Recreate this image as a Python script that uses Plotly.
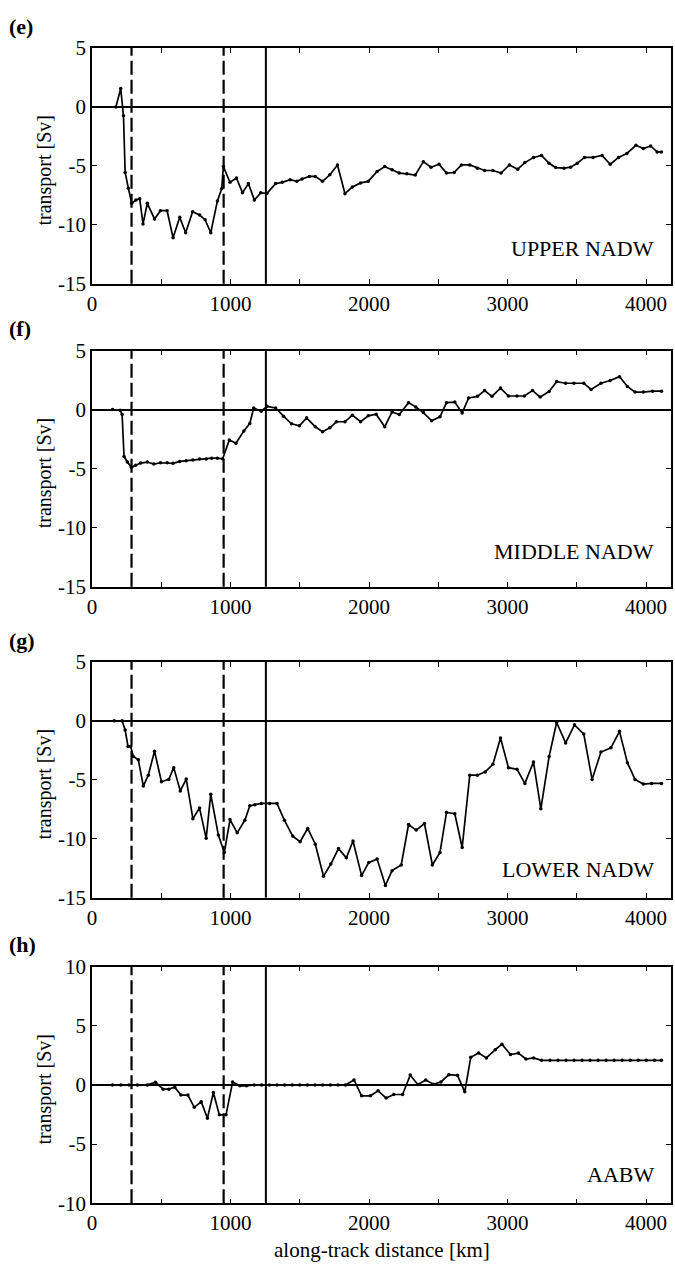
import plotly.graph_objects as go

# ---------------- data: along-track distance [km] and transport [Sv] ----------------
km_upper = [172, 207, 227, 239, 262, 286, 317, 344, 368, 399, 451, 494, 542, 585, 633, 676,
            726, 776, 816, 857, 905, 936, 948, 996, 1043, 1086, 1129, 1172, 1218, 1263, 1325,
            1373, 1430, 1478, 1516, 1569, 1612, 1664, 1717, 1772, 1826, 1879, 1939, 1994, 2058,
            2113, 2166, 2218, 2273, 2333, 2392, 2447, 2505, 2559, 2614, 2667, 2727, 2782, 2834,
            2894, 2953, 3013, 3073, 3125, 3187, 3245, 3300, 3347, 3407, 3455, 3503, 3555, 3617,
            3682, 3741, 3801, 3861, 3927, 3980, 4033, 4080, 4111]
sv_upper = [0, 1.56, -0.75, -5.56, -6.89, -8.17, -7.89, -7.78, -9.92, -8.17, -9.5, -8.8, -8.8,
            -11.1, -9.36, -10.67, -8.89, -9.17, -9.56, -10.67, -7.97, -6.94, -5.06, -6.39, -6.03,
            -7.28, -6.5, -7.89, -7.28, -7.33, -6.5, -6.39, -6.17, -6.31, -6.11, -5.89, -5.89,
            -6.31, -5.75, -4.92, -7.36, -6.78, -6.44, -6.31, -5.47, -5.06, -5.33, -5.61, -5.67,
            -5.78, -4.64, -5.11, -4.86, -5.61, -5.56, -4.92, -4.92, -5.19, -5.39, -5.39, -5.61,
            -4.92, -5.28, -4.72, -4.28, -4.11, -4.78, -5.14, -5.19, -5.11, -4.78, -4.28, -4.28,
            -4.11, -4.86, -4.28, -3.94, -3.25, -3.53, -3.31, -3.81, -3.81]

km_middle = [148, 203, 217, 231, 255, 284, 315, 351, 399, 446, 494, 542, 585, 633, 680, 728,
             776, 824, 864, 905, 943, 991, 1039, 1096, 1139, 1167, 1222, 1263, 1325, 1382, 1440,
             1497, 1549, 1612, 1664, 1717, 1764, 1826, 1879, 1939, 1994, 2051, 2113, 2166, 2218,
             2285, 2337, 2392, 2452, 2512, 2559, 2619, 2672, 2719, 2782, 2834, 2887, 2949, 3006,
             3068, 3121, 3180, 3235, 3300, 3354, 3419, 3479, 3550, 3603, 3674, 3741, 3808, 3865,
             3920, 3980, 4047, 4111]
sv_middle = [0, -0.06, -0.42, -3.97, -4.44, -4.89, -4.72, -4.53, -4.44, -4.61, -4.5, -4.5,
             -4.55, -4.39, -4.33, -4.27, -4.19, -4.19, -4.11, -4.11, -4.16, -2.57, -2.85, -1.82,
             -1.17, 0.14, -0.14, 0.28, 0.14, -0.56, -1.2, -1.37, -0.7, -1.45, -1.87, -1.54,
             -1.03, -1.03, -0.47, -1.03, -0.53, -0.39, -1.45, -0.2, -0.42, 0.59, 0.22, -0.25,
             -0.95, -0.61, 0.59, 0.64, -0.28, 0.98, 1.12, 1.62, 1.12, 1.82, 1.15, 1.15, 1.15,
             1.62, 1.06, 1.54, 2.37, 2.23, 2.23, 2.23, 1.7, 2.23, 2.46, 2.79, 1.96, 1.48, 1.48,
             1.56, 1.56]

km_lower = [160, 217, 239, 260, 279, 298, 334, 370, 406, 451, 501, 554, 590, 637, 680, 728,
            776, 824, 857, 912, 955, 996, 1048, 1103, 1139, 1175, 1222, 1282, 1335, 1389, 1449,
            1502, 1557, 1612, 1671, 1724, 1779, 1836, 1884, 1946, 1998, 2058, 2118, 2166, 2232,
            2285, 2340, 2400, 2457, 2512, 2559, 2619, 2672, 2727, 2782, 2839, 2894, 2949, 3006,
            3068, 3125, 3187, 3240, 3300, 3354, 3419, 3483, 3550, 3610, 3674, 3746, 3808, 3865,
            3920, 3980, 4040, 4111]
sv_lower = [0, 0, -0.78, -2.18, -2.18, -3.02, -3.3, -5.53, -4.61, -2.57, -5.17, -4.97, -3.97,
            -5.95, -4.94, -8.3, -7.4, -9.97, -6.23, -9.69, -11.17, -8.38, -9.5, -8.44, -7.21,
            -7.12, -7.01, -7.01, -7.01, -8.44, -9.78, -10.25, -9.13, -10.47, -13.18, -12.15,
            -10.84, -11.62, -10.2, -13.13, -12.01, -11.73, -13.97, -12.71, -12.23, -8.8, -9.27,
            -8.72, -12.23, -11.17, -7.77, -7.88, -10.75, -4.61, -4.61, -4.33, -3.69, -1.45,
            -3.97, -4.11, -5.31, -3.49, -7.46, -3.02, -0.14, -1.87, -0.34, -1.12, -4.97, -2.65,
            -2.29, -0.89, -3.55, -4.97, -5.36, -5.31, -5.31]

km_aabw = [148, 208, 267, 327, 399, 458, 513, 554, 597, 642, 692, 738, 788, 833, 876, 919, 967,
           1015, 1067, 1115, 1170, 1225, 1280, 1335, 1390, 1445, 1500, 1555, 1610, 1665, 1720,
           1775, 1830, 1891, 1946, 2010, 2065, 2123, 2178, 2242, 2297, 2352, 2409, 2464, 2519,
           2576, 2638, 2691, 2734, 2791, 2847, 2911, 2959, 3021, 3078, 3133, 3188, 3245, 3306,
           3364, 3422, 3480, 3538, 3596, 3654, 3712, 3770, 3828, 3886, 3944, 4002, 4060, 4111]
sv_aabw = [0, 0, 0, 0, 0, 0.22, -0.36, -0.36, -0.19, -0.86, -0.86, -1.89, -1.42, -2.81, -0.64,
           -2.53, -2.53, 0.25, -0.08, -0.08, 0, 0, 0, 0, 0, 0, 0, 0, 0, 0, 0, 0, 0, 0.42, -0.92,
           -0.92, -0.5, -1.11, -0.81, -0.81, 0.83, 0.03, 0.42, 0.06, 0.25, 0.86, 0.81, -0.58,
           2.33, 2.69, 2.28, 2.97, 3.44, 2.56, 2.69, 2.19, 2.28, 2.08, 2.08, 2.08, 2.08, 2.08,
           2.08, 2.08, 2.08, 2.08, 2.08, 2.08, 2.08, 2.08, 2.08, 2.08, 2.08]

panel_letters = ["(e)", "(f)", "(g)", "(h)"]
panel_names = ["UPPER NADW", "MIDDLE NADW", "LOWER NADW", "AABW"]
y_ranges = [[-15, 5], [-15, 5], [-15, 5], [-10, 10]]
y_ticks = [[5, 0, -5, -10, -15], [5, 0, -5, -10, -15], [5, 0, -5, -10, -15], [10, 5, 0, -5, -10]]
y_ticklabels = [["5", "0", "-5", "-10", "-15"], ["5", "0", "-5", "-10", "-15"],
                ["5", "0", "-5", "-10", "-15"], ["10", "5", "0", "-5", "-10"]]
x_ticks = [0, 500, 1000, 1500, 2000, 2500, 3000, 3500, 4000]
x_ticklabels = ["0", "", "1000", "", "2000", "", "3000", "", "4000"]
dashed_km = [285, 950]      # dashed section boundaries
solid_km = 1255             # solid section boundary

series = [(km_upper, sv_upper), (km_middle, sv_middle), (km_lower, sv_lower), (km_aabw, sv_aabw)]

# ---------------- layout geometry (pixels) ----------------
W, H = 675, 1284
X_LEFT, X_RIGHT = 87.7, 671.0
panel_top = [36.7, 345.0, 662.3, 972.7]
panel_bottom = [277.0, 585.7, 902.5, 1214.0]
name_offset = [36, 36, 28.5, 29]

SERIF = "Liberation Serif, Times New Roman, serif"


def px_x(px):
    return px / W


def px_y(py):
    return 1 - py / H


fig = go.Figure()
layout = dict(
    width=W, height=H,
    margin=dict(l=0, r=0, t=0, b=0),
    paper_bgcolor="white", plot_bgcolor="white",
    showlegend=False,
    font=dict(family=SERIF, color="black", size=21),
)
annotations = []
shapes = []

for i, ((xs, ys), letter, name) in enumerate(zip(series, panel_letters, panel_names)):
    n = "" if i == 0 else str(i + 1)
    xa, ya = "x" + n, "y" + n
    fig.add_trace(go.Scatter(
        x=xs, y=ys, xaxis=xa, yaxis=ya, mode="lines+markers",
        line=dict(color="black", width=1.7),
        marker=dict(color="black", size=3.5),
        hoverinfo="skip",
    ))
    layout["xaxis" + n] = dict(
        domain=[px_x(X_LEFT), px_x(X_RIGHT)], anchor=ya, range=[0, 4180],
        tickmode="array", tickvals=x_ticks, ticktext=x_ticklabels,
        ticks="inside", ticklen=5, tickwidth=1.3, tickcolor="black",
        showline=True, linecolor="black", linewidth=1.6, mirror="allticks",
        showgrid=False, zeroline=False,
        tickfont=dict(family=SERIF, size=21, color="black"),
    )
    layout["yaxis" + n] = dict(
        domain=[px_y(panel_bottom[i]), px_y(panel_top[i])], anchor=xa, range=y_ranges[i],
        tickmode="array", tickvals=y_ticks[i], ticktext=y_ticklabels[i],
        ticks="inside", ticklen=5, tickwidth=1.3, tickcolor="black",
        showline=True, linecolor="black", linewidth=1.6, mirror="allticks",
        showgrid=False, zeroline=True, zerolinecolor="black", zerolinewidth=2,
        tickfont=dict(family=SERIF, size=21, color="black"),
    )
    # section boundaries
    for k in dashed_km:
        shapes.append(dict(type="line", xref=xa, yref=ya + " domain", x0=k, x1=k, y0=0, y1=1,
                           line=dict(color="black", width=2.2, dash="14px,5px")))
    shapes.append(dict(type="line", xref=xa, yref=ya + " domain", x0=solid_km, x1=solid_km,
                       y0=0, y1=1, line=dict(color="black", width=2)))
    # panel letter
    annotations.append(dict(text="<b>" + letter + "</b>", x=px_x(2), y=px_y(panel_top[i] - 22),
                            xref="paper", yref="paper", xanchor="left", yanchor="middle",
                            showarrow=False, font=dict(family=SERIF, size=22, color="black")))
    # water-mass name
    annotations.append(dict(text=name, x=px_x(656), y=px_y(panel_bottom[i] - name_offset[i]),
                            xref="paper", yref="paper", xanchor="right", yanchor="middle",
                            showarrow=False, font=dict(family=SERIF, size=22, color="black")))
    # y-axis label
    annotations.append(dict(text="transport [Sv]", x=px_x(40),
                            y=px_y((panel_top[i] + panel_bottom[i]) / 2 + 4), xref="paper",
                            yref="paper", xanchor="center", yanchor="middle", textangle=-90,
                            showarrow=False, font=dict(family=SERIF, size=20, color="black")))

annotations.append(dict(text="along-track distance [km]", x=px_x((X_LEFT + X_RIGHT) / 2),
                        y=px_y(1262), xref="paper", yref="paper", xanchor="center",
                        yanchor="middle", showarrow=False,
                        font=dict(family=SERIF, size=21, color="black")))

layout["annotations"] = annotations
layout["shapes"] = shapes
fig.update_layout(**layout)
fig.write_html("out.html")
